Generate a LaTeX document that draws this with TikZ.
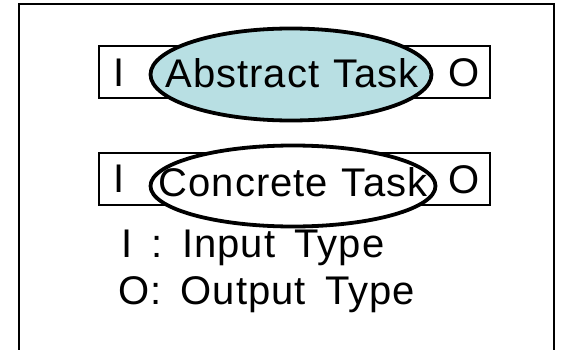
\documentclass[tikz,border=0pt]{standalone}
\usepackage{fontspec}
\setmainfont{Liberation Sans}[LetterSpace=2.5, WordSpace=1.15]
\newfontfamily\legendfont{Liberation Sans}[LetterSpace=2.5, WordSpace=1.6]
\usetikzlibrary{shapes.geometric}
\definecolor{taskblue}{RGB}{184,223,227}
\begin{document}
\begin{tikzpicture}[x=1pt,y=-1pt,
  iobox/.style={draw, line width=1.3pt, minimum width=391pt, minimum height=52pt, inner sep=0pt},
  task/.style={draw, ellipse, line width=3.8pt, inner sep=0pt},
  lbl/.style={font=\fontsize{40}{40}\selectfont, inner sep=0pt},
  legend/.style={inner sep=0pt, font=\legendfont\fontsize{40}{40}\selectfont, anchor=base west}]
\useasboundingbox (0,0) rectangle (564,350);
\begin{scope}
\clip (0,0) rectangle (564,350);
\draw[line width=2pt] (18.5,4.5) rectangle (554,370);
\end{scope}
% abstract task
\node[iobox] (absbox) at (294.5,72) {};
\node[task, fill=taskblue, minimum width=281pt, minimum height=92pt] (abs) at (291,74.5) {};
\node[lbl, anchor=base] (abstxt) at (292,88) {Abstract Task};
\node[lbl, anchor=base] (absI) at (119,87) {I};
\node[lbl, anchor=base] (absO) at (464,87) {O};
% concrete task
\node[iobox] (conbox) at (294.5,179) {};
\node[task, fill=white, minimum width=285pt, minimum height=81pt] (con) at (293,186) {};
\node[lbl, anchor=base] (contxt) at (293,196) {Concrete Task};
\node[lbl, anchor=base] (conI) at (119,192) {I};
\node[lbl, anchor=base] (conO) at (464,193) {O};
% legend
\node[legend] (legI) at (121,257) {I : Input Type};
\node[legend] (legO) at (118,304) {O: Output Type};
\end{tikzpicture}
\end{document}
